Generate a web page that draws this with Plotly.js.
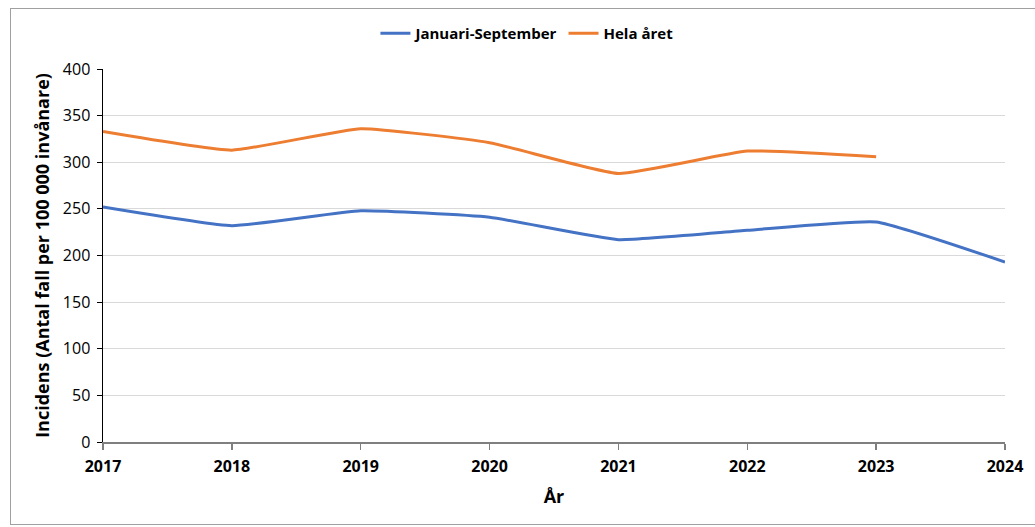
<!DOCTYPE html>
<html><head><meta charset="utf-8">
<script src="https://cdn.plot.ly/plotly-3.0.1.min.js"></script>
<style>
html,body{margin:0;padding:0;background:#fff;}
#frame{position:absolute;left:10px;top:8px;width:1040px;height:515px;border:1.5px solid #a0a0a0;pointer-events:none;z-index:5;}
#chart{position:absolute;left:0;top:0;width:1035px;height:527px;}
</style></head>
<body>
<div id="chart"></div><div id="frame"></div>
<script>
const years = [2017, 2018, 2019, 2020, 2021, 2022, 2023, 2024];
const janSep = [252, 232, 248, 241, 217, 227, 236, 193];
const helaYears = [2017, 2018, 2019, 2020, 2021, 2022, 2023];
const hela = [333, 313, 336, 321, 288, 312, 306];
const yTicks = [0, 50, 100, 150, 200, 250, 300, 350, 400];

const font = "Open Sans, Noto Sans, sans-serif";
const traces = [
  {x: years, y: janSep, name: 'Januari-September', mode: 'lines',
   line: {color: '#4472C4', width: 3, shape: 'spline', smoothing: 0.4}},
  {x: helaYears, y: hela, name: 'Hela året', mode: 'lines',
   line: {color: '#ED7D31', width: 3, shape: 'spline', smoothing: 0.4}}
];
const layout = {
  width: 1035, height: 527,
  margin: {l: 103, r: 30, t: 69, b: 85},
  paper_bgcolor: '#fff', plot_bgcolor: '#fff',
  font: {family: font, color: '#000', size: 15},
  showlegend: true,
  legend: {orientation: 'h', x: 0.47, xanchor: 'center', xref: 'paper', y: 1.095, yanchor: 'middle',
           itemwidth: 30, font: {family: font, size: 15, weight: 'bold', color: '#000'}},
  xaxis: {
    range: [2017, 2024], tickvals: years, ticktext: years.map(String),
    showgrid: false, zeroline: false,
    showline: true, linecolor: '#7f7f7f', linewidth: 1.5,
    ticks: 'outside', ticklen: 6, tickcolor: '#7f7f7f', tickwidth: 1.5,
    ticklabelstandoff: 3,
    tickfont: {family: font, size: 16, weight: 'bold', color: '#000'},
    title: {text: 'År', font: {family: font, size: 18, weight: 'bold', color: '#000'}, standoff: 14}
  },
  yaxis: {
    range: [0, 400], tickvals: yTicks,
    showgrid: true, gridcolor: '#d9d9d9', gridwidth: 1, zeroline: false,
    showline: true, linecolor: '#000', linewidth: 1.5,
    ticks: 'outside', ticklen: 5, tickcolor: '#000', tickwidth: 1,
    ticklabelstandoff: 3,
    tickfont: {family: font, size: 16, color: '#000'},
    title: {text: 'Incidens (Antal fall per 100 000 invånare)', font: {family: font, size: 18, weight: 'bold', color: '#000'}, standoff: 8}
  }
};
Plotly.newPlot('chart', traces, layout, {displayModeBar: false, staticPlot: true});
</script>
</body></html>
